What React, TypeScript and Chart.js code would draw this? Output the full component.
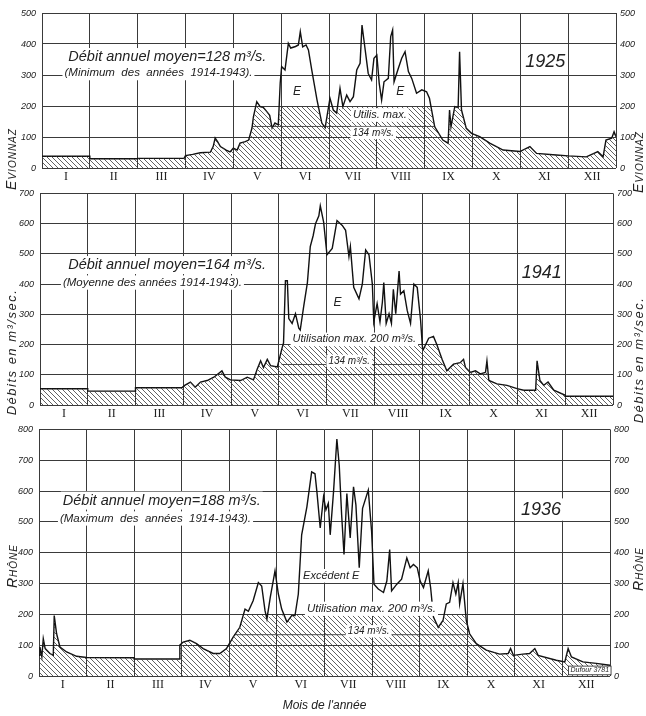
import { useEffect, useRef } from 'react';
import { Chart, registerables } from 'chart.js';

Chart.register(...registerables);

const FONT = '"Liberation Sans", Arial, sans-serif';
const INK = '#222';
const GRID = '#3a3a3a';

const MONTHS = ['I', 'II', 'III', 'IV', 'V', 'VI', 'VII', 'VIII', 'IX', 'X', 'XI', 'XII'];
const CAP = 200; // utilisation max.
const REF = 134;

// 1925 – Evionnaz, minimum year (x in months from 1 Jan, q in m3/s)
const X_1925 = [0, 1, 1, 2, 2, 2.97, 3, 3.15, 3.31, 3.52, 3.58, 3.62, 3.67, 3.73, 3.85, 3.93, 4, 4.08, 4.14, 4.25, 4.32, 4.39, 4.42, 4.49, 4.56, 4.63, 4.7, 4.76, 4.81, 4.87, 4.94, 4.98, 5.01, 5.08, 5.15, 5.2, 5.3, 5.36, 5.4, 5.45, 5.52, 5.57, 5.64, 5.75, 5.85, 5.92, 6.02, 6.09, 6.16, 6.23, 6.29, 6.37, 6.44, 6.51, 6.58, 6.65, 6.69, 6.73, 6.82, 6.89, 6.94, 7, 7.05, 7.1, 7.15, 7.24, 7.29, 7.33, 7.36, 7.45, 7.52, 7.59, 7.66, 7.73, 7.83, 7.94, 8.04, 8.1, 8.21, 8.38, 8.49, 8.52, 8.55, 8.63, 8.7, 8.73, 8.77, 8.87, 8.98, 9.15, 9.36, 9.64, 9.99, 10.2, 10.34, 10.75, 11, 11.38, 11.62, 11.73, 11.79, 11.91, 11.96, 12];
const Q_1925 = [38, 38, 30, 30, 31, 31, 40, 44, 49, 51, 70, 97, 85, 69, 58, 52, 64, 58, 80, 85, 90, 129, 165, 214, 198, 195, 182, 170, 129, 145, 139, 274, 327, 316, 402, 387, 392, 397, 440, 391, 397, 381, 316, 219, 145, 130, 225, 187, 177, 257, 198, 235, 214, 230, 316, 338, 461, 413, 305, 284, 354, 364, 273, 219, 278, 289, 424, 445, 278, 322, 354, 375, 311, 289, 241, 252, 246, 225, 133, 90, 80, 187, 133, 198, 195, 375, 187, 128, 112, 101, 80, 58, 53, 69, 47, 42, 39, 36, 53, 36, 90, 96, 117, 101];
const REF_1925 = [4.4, 8.22];

// 1941 – mean year
const X_1941 = [0, 1, 1, 2, 2, 2.97, 3.03, 3.15, 3.25, 3.36, 3.5, 3.64, 3.81, 3.88, 3.99, 4.2, 4.34, 4.47, 4.55, 4.62, 4.68, 4.76, 4.83, 4.97, 5.07, 5.1, 5.14, 5.18, 5.21, 5.28, 5.35, 5.42, 5.45, 5.52, 5.6, 5.66, 5.72, 5.77, 5.84, 5.87, 5.94, 6.01, 6.12, 6.22, 6.33, 6.4, 6.47, 6.5, 6.57, 6.68, 6.75, 6.82, 6.89, 6.96, 6.99, 7.06, 7.12, 7.17, 7.2, 7.25, 7.31, 7.36, 7.4, 7.45, 7.52, 7.55, 7.62, 7.69, 7.76, 7.83, 7.9, 7.97, 8.01, 8.03, 8.14, 8.24, 8.31, 8.42, 8.52, 8.66, 8.8, 8.87, 8.91, 9.01, 9.12, 9.22, 9.33, 9.36, 9.4, 9.57, 9.78, 9.99, 10.13, 10.38, 10.41, 10.47, 10.55, 10.64, 10.76, 11, 11, 12];
const Q_1941 = [54, 54, 46, 46, 57, 57, 65, 76, 59, 76, 81, 92, 113, 92, 83, 81, 92, 83, 119, 146, 124, 151, 130, 126, 189, 205, 411, 411, 286, 270, 302, 254, 248, 324, 405, 524, 560, 600, 626, 659, 605, 497, 518, 610, 594, 578, 491, 524, 389, 351, 400, 513, 497, 400, 275, 335, 275, 340, 405, 270, 302, 270, 383, 302, 443, 367, 378, 313, 270, 400, 389, 281, 189, 184, 221, 227, 200, 151, 113, 135, 140, 151, 124, 108, 113, 103, 108, 146, 81, 70, 65, 54, 49, 49, 146, 81, 65, 76, 49, 32, 29, 29];
const REF_1941 = [5.06, 8.43];

// 1936 – Rhône, maximum year
const X_1936 = [0, 0.02, 0.06, 0.09, 0.13, 0.23, 0.3, 0.32, 0.37, 0.44, 0.58, 0.79, 1, 2, 2, 2.96, 2.96, 3.03, 3.17, 3.31, 3.45, 3.66, 3.8, 3.94, 4.08, 4.22, 4.33, 4.4, 4.5, 4.61, 4.68, 4.75, 4.79, 4.86, 4.96, 5.03, 5.1, 5.21, 5.31, 5.38, 5.45, 5.52, 5.63, 5.73, 5.8, 5.84, 5.91, 5.98, 6.03, 6.08, 6.12, 6.19, 6.26, 6.31, 6.36, 6.41, 6.47, 6.54, 6.61, 6.66, 6.73, 6.8, 6.92, 6.99, 7.04, 7.13, 7.24, 7.31, 7.37, 7.41, 7.52, 7.62, 7.73, 7.8, 7.87, 7.95, 8.01, 8.08, 8.18, 8.23, 8.29, 8.39, 8.49, 8.56, 8.63, 8.7, 8.76, 8.81, 8.84, 8.91, 8.98, 9.05, 9.19, 9.4, 9.68, 9.86, 9.91, 9.97, 10.17, 10.31, 10.42, 10.49, 10.87, 11.05, 11.12, 11.19, 11.43, 11.71, 12];
const Q_1936 = [67, 94, 62, 121, 89, 73, 67, 196, 137, 94, 78, 64, 60, 59, 55, 55, 100, 110, 116, 105, 89, 73, 73, 89, 126, 158, 217, 210, 244, 303, 292, 212, 185, 255, 341, 266, 217, 175, 196, 196, 266, 458, 549, 662, 656, 598, 480, 582, 539, 560, 458, 598, 769, 683, 523, 394, 592, 448, 614, 555, 351, 544, 603, 469, 298, 282, 271, 308, 410, 276, 298, 314, 383, 351, 362, 351, 308, 287, 341, 287, 191, 158, 180, 234, 239, 303, 266, 303, 234, 300, 180, 137, 105, 84, 71, 73, 89, 67, 71, 73, 89, 67, 51, 46, 89, 62, 46, 41, 35];
const REF_1936 = [4.1, 9.04];

type Note = { x: number; y: number; text: string; size: number; align?: CanvasTextAlign; box?: boolean };

type PanelCfg = {
  xs: number[]; qs: number[]; ref: number[]; ymax: number;
  top: number; height: number; padTop: number; left: number; right: number; bottom: number;
  xTitle?: string; notes: Note[];
};

const PANELS: PanelCfg[] = [
  {
    xs: X_1925, qs: Q_1925, ref: REF_1925, ymax: 500,
    top: 0, height: 182, padTop: 13, left: 42, right: 616, bottom: 14,
    notes: [
      { x: 0.55, y: 358, text: 'Débit annuel moyen=128 m³/s.', size: 14.5 },
      { x: 0.47, y: 306, text: '(Minimum  des  années  1914-1943).', size: 11.5 },
      { x: 10.52, y: 342, text: '1925', size: 18, align: 'center' },
      { x: 5.33, y: 245, text: 'E', size: 12, align: 'center' },
      { x: 7.49, y: 245, text: 'E', size: 12, align: 'center' },
      { x: 6.5, y: 171, text: 'Utilis. max.', size: 11 },
      { x: 6.49, y: 113, text: '134 m³/s.', size: 10 },
    ],
  },
  {
    xs: X_1941, qs: Q_1941, ref: REF_1941, ymax: 700,
    top: 182, height: 236, padTop: 7, left: 40, right: 613, bottom: 13,
    notes: [
      { x: 0.59, y: 463, text: 'Débit annuel moyen=164 m³/s.', size: 14.5 },
      { x: 0.48, y: 405, text: '(Moyenne des années 1914-1943).', size: 11.5 },
      { x: 10.51, y: 437, text: '1941', size: 18, align: 'center' },
      { x: 6.23, y: 340, text: 'E', size: 12, align: 'center' },
      { x: 5.29, y: 217, text: 'Utilisation max. 200 m³/s.', size: 11 },
      { x: 6.04, y: 146, text: '134 m³/s.', size: 10 },
    ],
  },
  {
    xs: X_1936, qs: Q_1936, ref: REF_1936, ymax: 800,
    top: 418, height: 298, padTop: 9, left: 39, right: 610, bottom: 40,
    xTitle: "Mois de l'année",
    notes: [
      { x: 0.5, y: 569, text: 'Débit annuel moyen=188 m³/s.', size: 14.5 },
      { x: 0.44, y: 511, text: '(Maximum  des  années  1914-1943).', size: 11.5 },
      { x: 10.55, y: 540, text: '1936', size: 18, align: 'center' },
      { x: 5.55, y: 325, text: 'Excédent E', size: 11 },
      { x: 5.63, y: 218, text: 'Utilisation max. 200 m³/s.', size: 11.5 },
      { x: 6.49, y: 145, text: '134 m³/s.', size: 10 },
      { x: 11.98, y: 18, text: 'Dufour 3781', size: 7, align: 'right', box: true },
    ],
  },
];

function hatchPattern(): CanvasPattern | string {
  const c = document.createElement('canvas');
  const s = 5;
  c.width = s;
  c.height = s;
  const g = c.getContext('2d');
  if (!g) return '#999';
  g.strokeStyle = '#3a3a3a';
  g.lineWidth = 0.8;
  g.beginPath();
  g.moveTo(0, 0); g.lineTo(s, s);
  g.moveTo(-1, s - 1); g.lineTo(1, s + 1);
  g.moveTo(s - 1, -1); g.lineTo(s + 1, 1);
  g.stroke();
  return g.createPattern(c, 'repeat') ?? '#999';
}

function notesPlugin(notes: Note[]) {
  return {
    id: 'notes',
    afterDatasetsDraw(chart: Chart) {
      const { ctx } = chart;
      const sx = chart.scales.x, sy = chart.scales.y;
      for (const n of notes) {
        ctx.save();
        ctx.font = `italic ${n.size}px ${FONT}`;
        ctx.textBaseline = 'middle';
        ctx.textAlign = n.align ?? 'left';
        const px = sx.getPixelForValue(n.x);
        const py = sy.getPixelForValue(n.y);
        const w = ctx.measureText(n.text).width;
        const left = n.align === 'center' ? px - w / 2 : n.align === 'right' ? px - w : px;
        ctx.fillStyle = '#fff';
        ctx.fillRect(left - 2, py - n.size * 0.62, w + 4, n.size * 1.24);
        if (n.box) {
          ctx.strokeStyle = INK;
          ctx.lineWidth = 0.8;
          ctx.strokeRect(left - 2, py - n.size * 0.62, w + 4, n.size * 1.24);
        }
        ctx.fillStyle = INK;
        ctx.fillText(n.text, px, py);
        ctx.restore();
      }
    },
  };
}

function Panel({ cfg }: { cfg: PanelCfg }) {
  const ref = useRef<HTMLCanvasElement>(null);

  useEffect(() => {
    if (!ref.current) return;
    const flow = cfg.xs.map((x, i) => ({ x, y: cfg.qs[i] }));
    const used = cfg.xs.map((x, i) => ({ x, y: Math.min(cfg.qs[i], CAP) }));
    const refLine = cfg.ref.map((x) => ({ x, y: REF }));
    const tickFont = { family: FONT, size: 9, style: 'italic' as const };

    const chart = new Chart(ref.current, {
      type: 'line',
      data: {
        datasets: [
          { data: used, fill: 'origin', backgroundColor: hatchPattern(), borderWidth: 0, pointRadius: 0 },
          { data: refLine, fill: false, borderColor: INK, borderWidth: 0.8, pointRadius: 0 },
          { data: flow, fill: false, borderColor: '#111', borderWidth: 1.4, pointRadius: 0, tension: 0 },
        ],
      },
      options: {
        responsive: false,
        animation: false,
        layout: { padding: { top: cfg.padTop, left: 0, right: 0, bottom: 0 } },
        plugins: { legend: { display: false }, tooltip: { enabled: false } },
        scales: {
          x: {
            type: 'linear', min: 0, max: 12,
            ticks: { display: false, stepSize: 1 },
            grid: { color: GRID, lineWidth: 1, drawTicks: false },
            border: { display: false },
            afterFit: (s: any) => { s.height = 0; },
          },
          xm: {
            type: 'linear', position: 'bottom', min: 0, max: 12,
            grid: { display: false, drawTicks: false },
            border: { display: false },
            afterBuildTicks: (s: any) => { s.ticks = MONTHS.map((_, i) => ({ value: i + 0.5 })); },
            ticks: {
              autoSkip: false, maxRotation: 0, padding: 2, color: INK,
              font: { family: '"Liberation Serif", serif', size: 12 },
              callback: (v: any) => MONTHS[Math.floor(Number(v))],
            },
            title: cfg.xTitle
              ? { display: true, text: cfg.xTitle, color: INK, font: { family: FONT, size: 12, style: 'italic' }, padding: { top: 0, bottom: 3 } }
              : { display: false },
            afterFit: (s: any) => { s.height = cfg.bottom; },
          },
          y: {
            type: 'linear', position: 'left', min: 0, max: cfg.ymax,
            ticks: { stepSize: 100, font: tickFont, color: INK, padding: 6 },
            grid: { color: GRID, lineWidth: 1, drawTicks: false },
            border: { display: false },
            afterFit: (s: any) => { s.width = cfg.left; },
          },
          y2: {
            type: 'linear', position: 'right', min: 0, max: cfg.ymax,
            ticks: { stepSize: 100, font: tickFont, color: INK, padding: 4 },
            grid: { display: false, drawTicks: false },
            border: { display: false },
            afterFit: (s: any) => { s.width = 646 - cfg.right; },
          },
        },
      },
      plugins: [notesPlugin(cfg.notes)],
    });

    return () => { chart.destroy(); };
  }, [cfg]);

  return (
    <canvas
      ref={ref}
      width={646}
      height={cfg.height}
      style={{ position: 'absolute', left: 0, top: cfg.top, width: 646, height: cfg.height }}
    />
  );
}

const sideBase = {
  position: 'absolute' as const,
  transform: 'translate(-50%, -50%) rotate(-90deg)',
  whiteSpace: 'nowrap' as const,
  fontFamily: FONT,
  fontStyle: 'italic',
  color: INK,
  lineHeight: 1,
};

function Side({ x, y, text, caps, size = 13, spacing = 1 }: { x: number; y: number; text: string; caps?: boolean; size?: number; spacing?: number }) {
  return (
    <div style={{ ...sideBase, left: x, top: y, fontSize: size, letterSpacing: spacing, fontVariant: caps ? 'small-caps' : 'normal' }}>
      {text}
    </div>
  );
}

export default function App() {
  return (
    <div style={{ position: 'absolute', left: 0, top: 0, width: 646, height: 716, background: '#fff', overflow: 'hidden' }}>
      {PANELS.map((p, i) => <Panel key={i} cfg={p} />)}
      <Side x={11} y={159} text="Evionnaz" caps size={14} />
      <Side x={11} y={352} text="Débits en m³/sec." size={13} spacing={1.5} />
      <Side x={12} y={566} text="Rhône" caps size={14} />
      <Side x={638} y={162} text="Evionnaz" caps size={14} />
      <Side x={638} y={360} text="Débits en m³/sec." size={13} spacing={1.5} />
      <Side x={638} y={569} text="Rhône" caps size={14} />
    </div>
  );
}
